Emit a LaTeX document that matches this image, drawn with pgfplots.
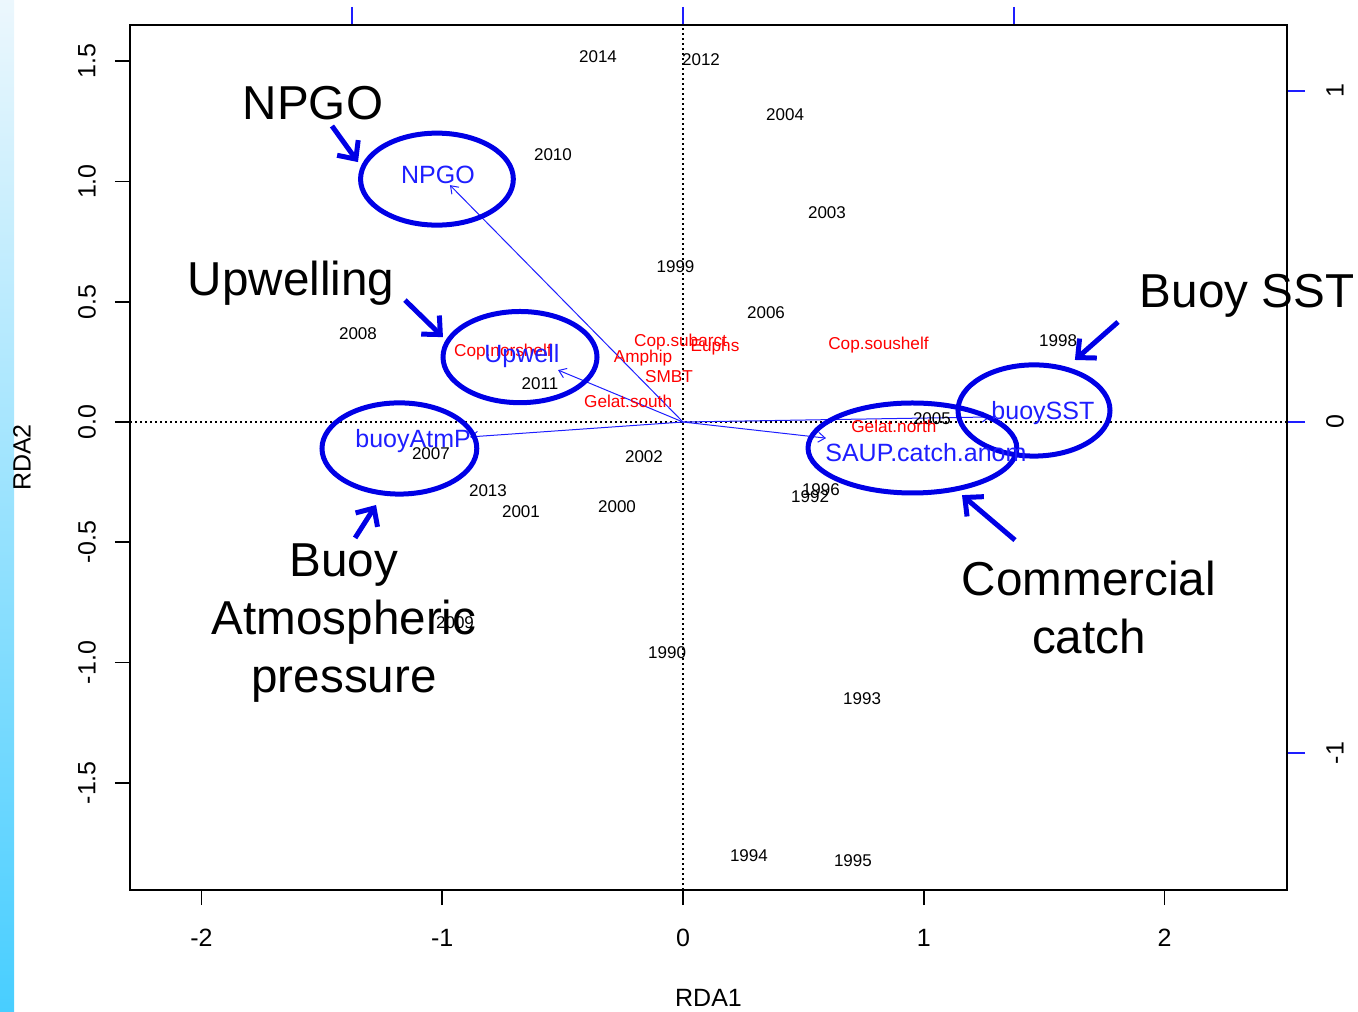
\documentclass[border=0pt]{standalone}
\usepackage{fontspec}
\setmainfont{Liberation Sans}
\usepackage{pgfplots}
\usepackage{pgfplotstable}
\pgfplotsset{compat=1.18}
\usetikzlibrary{arrows.meta}

\definecolor{envblue}{RGB}{30,30,255}
\definecolor{annblue}{RGB}{0,0,230}
\definecolor{sprred}{RGB}{255,0,0}
\definecolor{stripTop}{RGB}{236,247,253}
\definecolor{stripBot}{RGB}{72,206,255}

% site (year) scores
\pgfplotstableread{
label x y
2014 -0.353 1.518
2012 0.075 1.505
2004 0.424 1.277
2010 -0.540 1.110
2003 0.598 0.869
1999 -0.031 0.645
2006 0.345 0.453
2008 -1.350 0.366
1998 1.558 0.337
2011 -0.594 0.158
2005 1.034 0.012
2007 -1.047 -0.133
2002 -0.162 -0.146
2013 -0.810 -0.287
2001 -0.673 -0.374
2000 -0.274 -0.353
1996 0.573 -0.283
1992 0.528 -0.312
2009 -0.947 -0.836
1990 -0.066 -0.960
1993 0.744 -1.152
1994 0.274 -1.805
1995 0.706 -1.825
}\years

% species scores
\pgfplotstableread{
label x y
Cop.subarct -0.010 0.333
Euphs 0.133 0.312
Amphip -0.166 0.266
SMBT -0.058 0.187
Gelat.south -0.228 0.087
Cop.norshelf -0.748 0.291
Cop.soushelf 0.812 0.320
Gelat.north 0.876 -0.017
}\species

% environmental vector labels
\pgfplotstableread{
label x y
NPGO -1.018 1.027
Upwell -0.669 0.274
buoyAtmP -1.121 -0.079
SAUP.catch.anom 1.009 -0.125
buoySST 1.495 0.037
}\envlab

\begin{document}
\begin{tikzpicture}
\useasboundingbox (0,0) rectangle (679pt,505.5pt);
\shade[top color=stripTop,bottom color=stripBot] (0,0) rectangle (7pt,505.5pt);

% secondary (biplot) axes on top and right
\begin{axis}[
  at={(65pt,60.5pt)}, anchor=south west,
  scale only axis, width=578.5pt, height=432.5pt,
  xmin=-1.6707, xmax=1.8248, ymin=-1.4139, ymax=1.1994,
  axis x line*=top, axis y line*=right,
  axis line style={draw=none},
  xtick={-1,0,1}, xticklabels={},
  ytick={-1,0,1},
  tick align=outside, major tick length=9pt,
  tick style={envblue, line width=0.8pt},
  /pgf/number format/assume math mode=true,
  ticklabel style={font=\fontsize{12.5}{14}\selectfont},
  yticklabel style={xshift=15pt, rotate=90, anchor=center},
  clip=false,
]
\draw[envblue, line width=0.8pt] (axis cs:1.8248,-1) -- (axis cs:1.8248,1);
\draw[envblue, line width=0.8pt] (axis cs:-1,1.1994) -- (axis cs:1,1.1994);
\end{axis}

\begin{axis}[
  at={(65pt,60.5pt)}, anchor=south west,
  scale only axis, width=578.5pt, height=432.5pt,
  xmin=-2.297, xmax=2.509, ymin=-1.946, ymax=1.651,
  axis line style={black, line width=1pt},
  xtick={-2,-1,0,1,2}, ytick={-1.5,-1,-0.5,0,0.5,1,1.5},
  xtick pos=left, ytick pos=left, tick align=outside,
  major tick length=7.5pt,
  tick style={black, line width=0.8pt},
  /pgf/number format/assume math mode=true,
  ticklabel style={font=\fontsize{12.5}{14}\selectfont},
  xticklabel style={anchor=center, yshift=-16.5pt},
  yticklabel style={xshift=-14pt, rotate=90, anchor=center,
    /pgf/number format/fixed, /pgf/number format/fixed zerofill,
    /pgf/number format/precision=1},
  xlabel={RDA1}, ylabel={RDA2},
  every axis x label/.style={at={(axis description cs:0.5,0)}, anchor=center, yshift=-54pt,
    font=\fontsize{12.5}{14}\selectfont},
  every axis y label/.style={at={(axis description cs:0,0.5)}, xshift=-54pt, rotate=90, anchor=center,
    font=\fontsize{12.5}{14}\selectfont},
  clip=false,
]
% reference lines through the origin
\addplot[black, line width=0.8pt, dash pattern=on 1.2pt off 1.3pt] coordinates {(-2.297,0) (2.509,0)};
\addplot[black, line width=0.8pt, dash pattern=on 1.2pt off 1.3pt] coordinates {(0,-1.946) (0,1.651)};

% environmental vectors
\addplot[envblue, line width=0.5pt, -{Straight Barb[length=3.5pt,width=5pt]}] coordinates {(0,0) (-0.968,0.985)};
\addplot[envblue, line width=0.5pt, -{Straight Barb[length=3.5pt,width=5pt]}] coordinates {(0,0) (-0.519,0.216)};
\addplot[envblue, line width=0.5pt, -{Straight Barb[length=3.5pt,width=5pt]}] coordinates {(0,0) (-0.885,-0.062)};
\addplot[envblue, line width=0.5pt, -{Straight Barb[length=3.5pt,width=5pt]}] coordinates {(0,0) (0.594,-0.067)};
\addplot[envblue, line width=0.5pt, -{Straight Barb[length=3.5pt,width=5pt]}] coordinates {(0,0) (1.275,0.021)};

% year labels
\addplot[draw=none, mark=none, nodes near coords, point meta=explicit symbolic,
  nodes near coords align=center,
  every node near coord/.append style={font=\fontsize{8.5}{10}\selectfont, text=black, inner sep=0pt}]
  table[x=x, y=y, meta=label] {\years};

% species labels
\addplot[draw=none, mark=none, nodes near coords, point meta=explicit symbolic,
  nodes near coords align=center,
  every node near coord/.append style={font=\fontsize{8.6}{10}\selectfont, text=sprred, inner sep=0pt}]
  table[x=x, y=y, meta=label] {\species};

% vector labels
\addplot[draw=none, mark=none, nodes near coords, point meta=explicit symbolic,
  nodes near coords align=center,
  every node near coord/.append style={font=\fontsize{12.5}{14}\selectfont, text=envblue, inner sep=0pt}]
  table[x=x, y=y, meta=label] {\envlab};

% highlighted groups
\begin{scope}[annblue, line width=2.5pt]
\draw (axis cs:-1.022,1.010) ellipse [x radius=38.2pt, y radius=23pt];
\draw (axis cs:-0.677,0.270) ellipse [x radius=38.5pt, y radius=22.8pt];
\draw (axis cs:-1.178,-0.110) ellipse [x radius=38.7pt, y radius=22.8pt];
\draw (axis cs:0.953,-0.108) ellipse [x radius=52.2pt, y radius=22.5pt];
\draw (axis cs:1.458,0.048) ellipse [x radius=38pt, y radius=22.8pt];
\end{scope}

\begin{scope}[annblue, line width=2.5pt, -{Straight Barb[length=7pt,width=13pt,line width=2.5pt]}]
\draw (axis cs:-1.458,1.231) -- (axis cs:-1.350,1.081);
\draw (axis cs:-1.155,0.507) -- (axis cs:-0.997,0.353);
\draw (axis cs:1.807,0.416) -- (axis cs:1.628,0.258);
\draw (axis cs:-1.362,-0.482) -- (axis cs:-1.275,-0.345);
\draw (axis cs:1.379,-0.491) -- (axis cs:1.159,-0.304);
\end{scope}

\begin{scope}[font=\fontsize{23.8}{29}\selectfont, text=black]
\node[align=center] at (axis cs:-1.537,1.326) {NPGO};
\node[align=center] at (axis cs:-1.628,0.578) {Upwelling};
\node[align=center] at (axis cs:2.343,0.524) {Buoy SST};
\node[align=center] at (axis cs:-1.408,-0.834) {Buoy\\Atmospheric\\pressure};
\node[align=center] at (axis cs:1.686,-0.773) {Commercial\\catch};
\end{scope}
\end{axis}
\end{tikzpicture}
\end{document}
